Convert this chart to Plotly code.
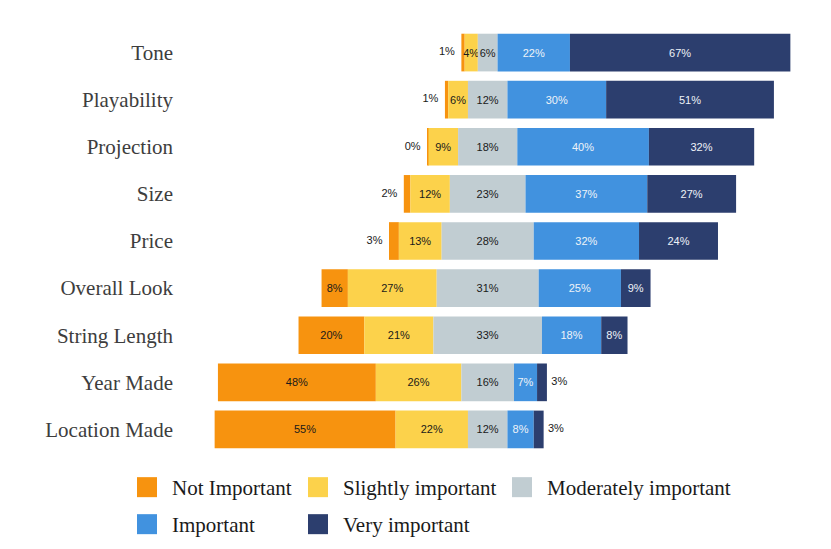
import plotly.graph_objects as go

# ---------------- data ----------------
categories = ["Tone", "Playability", "Projection", "Size", "Price",
              "Overall Look", "String Length", "Year Made", "Location Made"]
levels = ["Not Important", "Slightly important", "Moderately important",
          "Important", "Very important"]
not_important = [1, 1, 0.4, 2, 3, 8, 20, 48, 55]
slightly_important = [4, 6, 9, 12, 13, 27, 21, 26, 22]
moderately_important = [6, 12, 18, 23, 28, 31, 33, 16, 12]
important = [22, 30, 40, 37, 32, 25, 18, 7, 8]
very_important = [67, 51, 32, 27, 24, 9, 8, 3, 3]

colors = ["#F7930F", "#FCD24B", "#C1CDD2", "#4192DF", "#2C3E6E"]
text_colors = ["#1a1a1a", "#1a1a1a", "#1a1a1a", "#eef2f8", "#eef2f8"]

# ---------------- layout geometry ----------------
W, H = 831, 549
OFF = 8  # page body margin
# desired plot area in page pixels
P_LEFT, P_RIGHT, P_TOP, P_BOTTOM = 182, 821, 29.45, 453.35
ML = P_LEFT - OFF
MR = W - (P_RIGHT - OFF)
MT = P_TOP - OFF
MB = H - (P_BOTTOM - OFF)
PW = P_RIGHT - P_LEFT
PH = P_BOTTOM - P_TOP
X_RANGE = [-92.92, 101.31]
SMALL = 4  # values below this are labelled outside the bar


def px_to_paper_x(px):
    return (px - P_LEFT) / PW


def px_to_paper_y(py):
    return (P_BOTTOM - py) / PH


# diverging bases: neutral category centred on zero
base_mod = [-m / 2 for m in moderately_important]
base_sli = [-m / 2 - s for m, s in zip(moderately_important, slightly_important)]
base_not = [-m / 2 - s - n for m, s, n in zip(moderately_important, slightly_important, not_important)]
base_imp = [m / 2 for m in moderately_important]
base_very = [m / 2 + i for m, i in zip(moderately_important, important)]

series = [not_important, slightly_important, moderately_important, important, very_important]
bases = [base_not, base_sli, base_mod, base_imp, base_very]

fig = go.Figure()
for k, (name, vals, base) in enumerate(zip(levels, series, bases)):
    texts = [f"{v:.0f}%" if (v >= SMALL or k in (1, 2, 3)) else "" for v in vals]
    fig.add_trace(go.Bar(
        name=name, orientation="h", y=categories, x=vals, base=base,
        width=0.8, marker=dict(color=colors[k], line=dict(width=0)),
        text=texts, textposition="inside", insidetextanchor="middle",
        textangle=0, constraintext="none",
        textfont=dict(family="Liberation Sans, Arial, sans-serif", size=11, color=text_colors[k]),
        showlegend=False, hoverinfo="skip",
    ))

# outside labels for small end segments
lx, ly, lt = [], [], []
for c, b, v in zip(categories, base_not, not_important):
    if v < SMALL:
        lx.append(b - 4.4); ly.append(c); lt.append(f"{v:.0f}%")
rx, ry, rt = [], [], []
for c, b, v in zip(categories, base_very, very_important):
    if v < SMALL:
        rx.append(b + v + 3.75); ry.append(c); rt.append(f"{v:.0f}%")
fig.add_trace(go.Scatter(
    x=lx + rx, y=ly + ry, text=lt + rt, mode="text", textposition="middle center",
    textfont=dict(family="Liberation Sans, Arial, sans-serif", size=11, color="#1a1a1a"),
    showlegend=False, hoverinfo="skip", cliponaxis=False,
))

# ---------------- manual legend ----------------
legend_cols_swatch = [137, 308, 512]
legend_cols_text = [170, 341, 545]
legend_rows = [487.5, 524.5]
sw = 20
shapes, annotations = [], []
for idx, name in enumerate(levels):
    r, c = divmod(idx, 3)
    cy = legend_rows[r]
    x0 = legend_cols_swatch[c]
    shapes.append(dict(
        type="rect", xref="paper", yref="paper",
        x0=px_to_paper_x(x0), x1=px_to_paper_x(x0 + sw),
        y0=px_to_paper_y(cy + sw / 2), y1=px_to_paper_y(cy - sw / 2),
        fillcolor=colors[idx], line=dict(width=0),
    ))
    annotations.append(dict(
        text=name, xref="paper", yref="paper",
        x=px_to_paper_x(legend_cols_text[c]), y=px_to_paper_y(cy + 1),
        xanchor="left", yanchor="middle", showarrow=False,
        font=dict(family="Liberation Serif, Times New Roman, serif", size=21, color="#1a1a1a"),
    ))

fig.update_layout(
    width=W, height=H,
    margin=dict(l=ML, r=MR, t=MT, b=MB),
    barmode="overlay",
    plot_bgcolor="white", paper_bgcolor="white",
    showlegend=False,
    shapes=shapes, annotations=annotations,
    xaxis=dict(range=X_RANGE, visible=False, showgrid=False, zeroline=False, fixedrange=True),
    yaxis=dict(
        type="category", categoryorder="array", categoryarray=categories,
        range=[len(categories) - 0.5, -0.5],
        showgrid=False, zeroline=False, showline=False, ticks="",
        ticklabelstandoff=8,
        tickfont=dict(family="Liberation Serif, Times New Roman, serif", size=21, color="#3d3d3d"),
    ),
)

fig.write_html("out.html")
